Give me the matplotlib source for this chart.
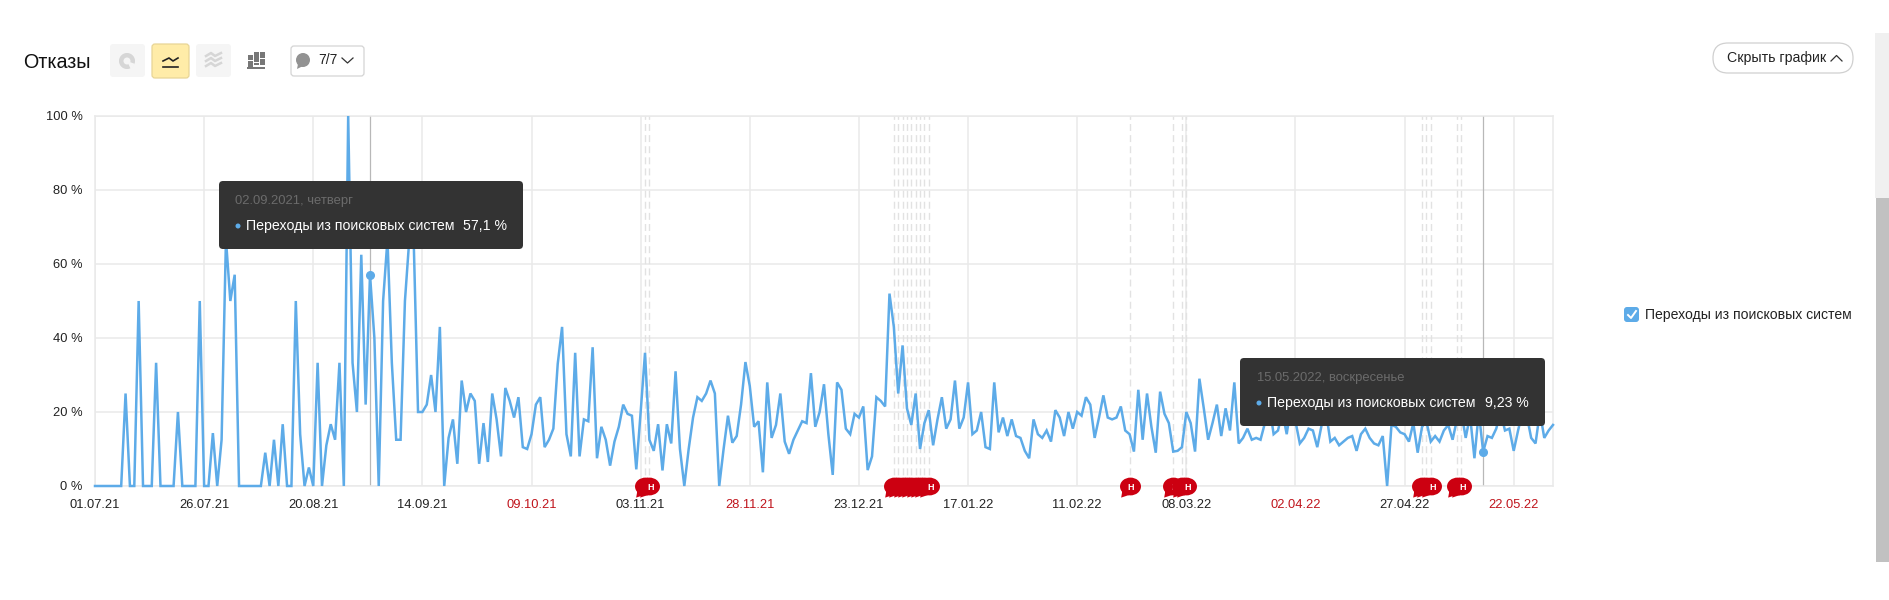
import matplotlib
matplotlib.use("Agg")
import matplotlib.pyplot as plt
from matplotlib.patches import FancyBboxPatch, Rectangle, Circle, Wedge, Polygon
from matplotlib.path import Path

plt.rcParams['font.family'] = ['Liberation Sans', 'DejaVu Sans']

# one value per day, starting 01.07.21
bounce = [
    0, 0, 0, 0, 0, 0, 0, 25, 0, 0, 50, 0, 0, 0, 33.3, 0, 0, 0, 0, 20,
    0, 0, 0, 0, 50, 0, 0, 14.3, 0, 12.5, 66.7, 50, 57.1, 0, 0, 0, 0, 0, 0, 9,
    0, 12.5, 0, 16.7, 0, 0, 50, 14, 0, 5, 0, 33.3, 0, 11, 16.7, 12.5, 33.3, 0, 100, 33.3,
    20, 62.5, 22, 57.1, 40, 0, 50, 66.7, 33.3, 12.5, 12.5, 50, 66.7, 66.7, 20, 20, 22, 30, 20, 43,
    0, 13, 18, 6, 28.5, 20, 25, 23, 6, 17, 6.5, 25, 18, 8, 26.5, 23, 18.5, 24, 10.5, 10,
    14, 22, 24, 10.5, 12.5, 15.5, 33, 43, 14, 8, 36, 8, 18, 17.5, 37.5, 7.5, 16, 12.5, 5.5, 12,
    16, 22, 19.5, 19, 4.5, 20, 36, 12.5, 9.5, 16.7, 4.2, 16.7, 11.5, 31, 10, 0, 10, 18.5, 24, 23,
    25, 28.5, 25, 0, 10, 19, 11.7, 13.5, 22, 33.5, 27, 16, 17.5, 3.7, 28, 13, 16.5, 25, 12, 8.7,
    12.5, 15, 17.5, 17, 30.5, 16, 20, 27.5, 14, 3, 28, 26, 15.5, 14, 19.5, 18.5, 21.5, 4.3, 8, 24,
    23, 21.5, 52, 43, 25, 38, 21, 16.5, 25, 10, 17, 20.5, 11, 18, 24, 15.5, 18, 28.5, 15.5, 18.5,
    28, 14, 15, 20, 10.5, 10, 28, 14.5, 18.5, 13.5, 18, 13.5, 13, 9.5, 7.5, 18, 14, 13, 15, 12,
    20.5, 18.5, 13.5, 20, 15.5, 20, 19, 24, 22, 13, 18.5, 24.5, 18.5, 18, 18.5, 21.5, 15, 14, 9.3, 26,
    12.5, 25, 16, 9, 25.5, 19.5, 17, 9.3, 9.5, 10.5, 20, 17, 9.3, 29, 21, 12.5, 17, 22, 13.5, 21,
    15, 28, 11.5, 13, 15.5, 12.5, 13, 12.5, 17, 22, 14, 15, 20, 14, 22, 17.5, 11.5, 13, 15.5, 15,
    10.5, 16.5, 20, 12, 13, 11, 12, 13, 13.5, 9.5, 14, 15.5, 13, 11.5, 11, 13.5, 0, 16.5, 16, 14.5,
    14, 12, 17, 9, 16, 17.5, 12, 13.5, 12, 15, 16.5, 12.5, 18, 20, 13, 19, 7.5, 20, 9.23, 13.5,
    13, 15.5, 20, 15, 15.5, 9.5, 15, 20, 19, 13, 11.5, 20, 13, 15, 16.5,
]
tick_days = [0, 25, 50, 75, 100, 125, 150, 175, 200, 225, 250, 275, 300, 325]
tick_labels = ['01.07.21', '26.07.21', '20.08.21', '14.09.21', '09.10.21', '03.11.21', '28.11.21',
               '23.12.21', '17.01.22', '11.02.22', '08.03.22', '02.04.22', '27.04.22', '22.05.22']
red_labels = ['09.10.21', '28.11.21', '02.04.22', '22.05.22']
y_ticks = [0, 20, 40, 60, 80, 100]
y_labels = ['0 %', '20 %', '40 %', '60 %', '80 %', '100 %']
note_days = [126, 127, 183, 184, 185, 186, 187, 188, 189, 190, 191, 237, 247, 249, 250, 304, 305, 306, 312, 313]
picked_days = [63, 318]

W, H = 1890, 600
BLUE = '#5dabe8'
GRID = '#e9e9e9'

fig = plt.figure(figsize=(W / 100, H / 100), dpi=100)
ax = fig.add_axes([95 / W, 1 - 486 / H, (1553 - 95) / W, (486 - 116) / H])

ax.plot(range(len(bounce)), bounce, color=BLUE, lw=1.8, solid_joinstyle='miter', zorder=3, clip_on=False)
ax.set_xlim(0, 334)
ax.set_ylim(0, 100)
ax.set_xticks(tick_days, tick_labels)
ax.set_yticks(y_ticks, y_labels)
ax.grid(color=GRID, lw=1.1, zorder=0)
ax.set_axisbelow(True)
ax.tick_params(length=0, labelsize=9.3, colors='#222222')
ax.tick_params(axis='x', pad=9.5)
ax.tick_params(axis='y', pad=9)
for lab in ax.get_xticklabels():
    if lab.get_text() in red_labels:
        lab.set_color('#c0141c')
for s in ax.spines.values():
    s.set_color(GRID)
    s.set_linewidth(1.1)

# dashed note lines and the picked days
for d in note_days:
    ax.axvline(d, color='#e2e2e2', lw=1, dashes=(5, 3), zorder=1)
for d in picked_days:
    ax.axvline(d, color='#b8b8b8', lw=0.9, zorder=2)
    ax.plot(d, bounce[d], 'o', color=BLUE, ms=5.5, zorder=4)

# speech bubble marker: ellipse plus a small tail bottom left
circ = Path.unit_circle()
body = Path(circ.vertices * [1.18, 1.0], circ.codes)
tail = Path([(-0.9, -0.4), (-1.05, -1.25), (0.0, -0.9), (-0.9, -0.4)],
            [Path.MOVETO, Path.LINETO, Path.LINETO, Path.CLOSEPOLY])
bubble = Path.make_compound_path(body, tail)
for i, d in enumerate(note_days):
    ax.plot(d, 0, marker=bubble, ms=16, color='#cc0011', mew=0, clip_on=False, zorder=5 + i)
    ax.annotate('Н', (d, 0), xytext=(1, -1), textcoords='offset points', color='white', fontsize=6.5,
                fontweight='bold', ha='center', va='center', annotation_clip=False, zorder=5 + i)

# overlay in pixels for the interface around the chart
ui = fig.add_axes([0, 0, 1, 1], zorder=10)
ui.set_xlim(0, W)
ui.set_ylim(H, 0)
ui.axis('off')


def box(x0, y0, x1, y1, fc, ec='none', r=3, lw=1):
    ui.add_patch(FancyBboxPatch((x0 + r, y0 + r), x1 - x0 - 2 * r, y1 - y0 - 2 * r,
                                boxstyle=f'round,pad={r},rounding_size={r}', fc=fc, ec=ec, lw=lw))


ui.text(23.5, 62, 'Отказы', fontsize=14.2, color='#111111', va='center')

# chart type buttons
box(110, 44, 145, 77, '#f5f5f5')
ui.add_patch(Wedge((127, 61), 8, 0, 360, width=4.5, fc='#d6d6d6'))
ui.add_patch(Wedge((127, 61), 8.5, 20, 65, width=8.5, fc='#f5f5f5'))

box(152, 44, 189, 78, '#ffeca8', '#e8d596', lw=0.9)
ui.plot([163, 169, 173, 178], [61, 58, 61, 58], color='#222222', lw=1.2)
ui.plot([163, 178], [66.5, 66.5], color='#222222', lw=1.2)

box(196, 44, 231, 77, '#f5f5f5')
for off in (0, 5, 10):
    ui.plot([206, 211, 215, 221], [56 + off, 53 + off, 56 + off, 53 + off], color='#d6d6d6', lw=1.8)

# column icon, three stacked bars with gaps
for x0, top, gap in ((248, 55, 60), (254, 52, 62), (260, 52, 58)):
    ui.add_patch(Rectangle((x0, top), 4.5, 13, fc='#777777'))
    ui.add_patch(Rectangle((x0, gap), 4.5, 1.4, fc='white'))
ui.add_patch(Rectangle((247, 67), 18, 1.5, fc='#777777'))

box(291, 46, 364, 76, 'white', '#d4d4d4', lw=0.9)
ui.add_patch(Circle((303, 60), 7, fc='#929292'))
ui.add_patch(Polygon([(298, 64), (297, 69), (303, 66)], fc='#929292'))
ui.text(318.5, 60.5, '7/7', fontsize=10, color='#222222', va='center')
ui.plot([342, 347.5, 353], [58, 63, 58], color='#333333', lw=0.9)

# hide button
box(1713, 43, 1853, 73, 'white', '#d0d0d0', r=15, lw=0.9)
ui.text(1727, 58, 'Скрыть график', fontsize=10.2, color='#222222', va='center')
ui.plot([1831, 1836.5, 1842], [61, 55.5, 61], color='#333333', lw=0.9)

# legend
box(1624, 307, 1639, 322, BLUE)
ui.plot([1628, 1631, 1636], [315, 318, 311], color='white', lw=1.4)
ui.text(1645, 315, 'Переходы из поисковых систем', fontsize=10.1, color='#222222', va='center')

# tooltips
box(219, 181, 523, 249, '#333333', r=4)
ui.text(235, 201, '02.09.2021, четверг', fontsize=9.4, color='#6b6b6b', va='center')
ui.add_patch(Circle((238, 226), 2.5, fc=BLUE))
ui.text(246, 226, 'Переходы из поисковых систем', fontsize=10.2, color='white', va='center')
ui.text(507, 226, '57,1 %', fontsize=10.2, color='white', va='center', ha='right')

box(1240, 358, 1545, 426, '#333333', r=4)
ui.text(1257, 378, '15.05.2022, воскресенье', fontsize=9.4, color='#6b6b6b', va='center')
ui.add_patch(Circle((1259, 403), 2.5, fc=BLUE))
ui.text(1267, 403, 'Переходы из поисковых систем', fontsize=10.2, color='white', va='center')
ui.text(1529, 403, '9,23 %', fontsize=10.2, color='white', va='center', ha='right')

# scrollbar
ui.add_patch(Rectangle((1875, 33), 15, 165, fc='#f0f0f0'))
ui.add_patch(Rectangle((1876, 198), 14, 364, fc='#c1c1c1'))

fig.savefig('out.png', dpi=100)
